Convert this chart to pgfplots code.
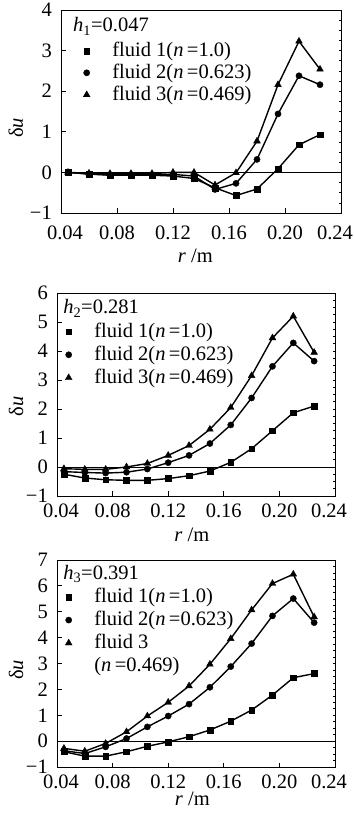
\documentclass[border=0pt]{standalone}
\usepackage{fontspec}
\setmainfont{Liberation Serif}
\usepackage{pgfplots}
\usepackage{pgfplotstable}
\pgfplotsset{compat=1.18}

\pgfplotstableread{
r f1 f2 f3
0.045 0.00 0.00 0.00
0.060 -0.04 -0.04 -0.02
0.075 -0.07 -0.06 -0.03
0.090 -0.07 -0.06 -0.03
0.105 -0.07 -0.06 -0.03
0.120 -0.09 -0.05 0.00
0.135 -0.15 -0.09 0.00
0.150 -0.38 -0.42 -0.31
0.165 -0.57 -0.27 -0.01
0.180 -0.41 0.32 0.77
0.195 0.09 1.44 2.16
0.210 0.68 2.38 3.23
0.225 0.93 2.16 2.54
}\tableA

\pgfplotstableread{
r f1 f2 f3
0.045 -0.25 -0.16 -0.06
0.060 -0.38 -0.19 -0.08
0.075 -0.44 -0.21 -0.08
0.090 -0.46 -0.18 0.00
0.105 -0.46 -0.07 0.12
0.120 -0.40 0.15 0.40
0.135 -0.30 0.40 0.74
0.150 -0.14 0.81 1.30
0.165 0.16 1.45 2.05
0.180 0.63 2.38 3.15
0.195 1.25 3.47 4.45
0.210 1.87 4.28 5.20
0.225 2.10 3.65 3.95
}\tableB

\pgfplotstableread{
r f1 f2 f3
0.045 -0.41 -0.37 -0.28
0.060 -0.58 -0.48 -0.39
0.075 -0.58 -0.22 -0.09
0.090 -0.41 0.10 0.36
0.105 -0.20 0.55 0.97
0.120 -0.03 0.97 1.50
0.135 0.17 1.43 2.13
0.150 0.43 2.08 2.97
0.165 0.77 2.88 3.96
0.180 1.20 3.77 5.07
0.195 1.78 4.84 6.09
0.210 2.45 5.51 6.45
0.225 2.61 4.58 4.80
}\tableC

\newcommand{\fs}{\fontsize{20.5}{24}\selectfont}

\pgfplotsset{
  base/.style={
    scale only axis,
    xmin=0.04, xmax=0.24,
    xtick={0.04,0.08,0.12,0.16,0.20,0.24},
    xticklabels={\hspace*{8pt}0.04,0.08,0.12,0.16,0.20,\hspace*{-12pt}0.24},
    tick align=inside, xtick pos=bottom, ytick pos=left,
    major tick length=4.5pt,
    axis line style={line width=0.9pt},
    every tick/.style={black, line width=0.9pt},
    tick label style={font=\fs, inner sep=0pt},
    yticklabel style={anchor=east, xshift=-9pt},
    label style={font=\fs},
    xlabel={\textit{r} /m},
    ylabel={δ\textit{u}},
    legend style={draw=none, fill=none, inner sep=0pt, outer sep=0pt, anchor=north west,
      nodes={font=\fs, inner sep=0pt, text depth=4pt, text height=15.5pt}},
    legend cell align=left,
    legend image code/.code={\draw[mark repeat=2,mark phase=2,##1,only marks] plot coordinates {(0pt,0pt)(6pt,0pt)(12pt,0pt)}; \path (0pt,0pt) (31pt,0pt);},
  },
  rt/.style={
    scale only axis, xmin=0.04, xmax=0.24,
    hide x axis, axis y line*=right,
    yticklabels={}, tick align=inside, major tick length=2.5pt,
    every tick/.style={black, line width=0.6pt},
    axis line style={line width=0.9pt},
  },
  s1/.style={black, line width=1.4pt, mark=square*, mark size=2.9pt, mark options={solid, line width=0.4pt}},
  s2/.style={black, line width=1.4pt, mark=*, mark size=3.1pt, mark options={solid, line width=0.4pt}},
  s3/.style={black, line width=1.4pt, mark=triangle*, mark size=3.9pt, mark options={solid, line width=0.4pt}},
}

\begin{document}
\begin{tikzpicture}
\useasboundingbox (0,0) rectangle (354pt,817pt);

% ---------- panel 1 ----------
\begin{axis}[base, at={(61pt,604pt)}, anchor=south west, width=280pt, height=203pt,
  ymin=-1, ymax=4, ytick={-1,0,1,2,3,4}, yticklabels={−1,0,1,2,3,4},
  xticklabel style={anchor=base, yshift=-27pt},
  xlabel style={at={(rel axis cs:0.48,0)}, anchor=base, yshift=-50pt},
  ylabel style={at={(rel axis cs:-0.161,0.42)}, anchor=center},
  legend style={at={(0,0.847)}, xshift=19pt, /tikz/row sep=2.5pt}]
\draw[line width=0.9pt] (axis cs:0.04,0) -- (axis cs:0.24,0);
\addplot[s1] table[x=r,y=f1] {\tableA};
\addlegendentry{fluid 1(\textit{n}\,=1.0)}
\addplot[s2] table[x=r,y=f2] {\tableA};
\addlegendentry{fluid 2(\textit{n}\,=0.623)}
\addplot[s3] table[x=r,y=f3] {\tableA};
\addlegendentry{fluid 3(\textit{n}\,=0.469)}
\node[anchor=base west, font=\fs, inner sep=0pt] at (rel axis cs:0.043,0.892) {\textit{h}\textsubscript{1}=0.047};
\end{axis}
\begin{axis}[rt, at={(61pt,604pt)}, anchor=south west, width=280pt, height=203pt,
  ymin=-1, ymax=4, ytick={-1,-0.75,...,4}]
\end{axis}

% ---------- panel 2 ----------
\begin{axis}[base, at={(57pt,321pt)}, anchor=south west, width=278pt, height=203pt,
  ymin=-1, ymax=6, ytick={-1,0,1,2,3,4,5,6}, yticklabels={−1,0,1,2,3,4,5,6},
  xticklabel style={anchor=base, yshift=-22pt},
  xlabel style={at={(rel axis cs:0.485,0)}, anchor=base, yshift=-46pt},
  ylabel style={at={(rel axis cs:-0.147,0.44)}, anchor=center},
  legend style={at={(0,0.857)}, xshift=5pt, /tikz/row sep=3.5pt}]
\draw[line width=0.9pt] (axis cs:0.04,0) -- (axis cs:0.24,0);
\addplot[s1] table[x=r,y=f1] {\tableB};
\addlegendentry{fluid 1(\textit{n}\,=1.0)}
\addplot[s2] table[x=r,y=f2] {\tableB};
\addlegendentry{fluid 2(\textit{n}\,=0.623)}
\addplot[s3] table[x=r,y=f3] {\tableB};
\addlegendentry{fluid 3(\textit{n}\,=0.469)}
\node[anchor=base west, font=\fs, inner sep=0pt] at (rel axis cs:0.022,0.897) {\textit{h}\textsubscript{2}=0.281};
\end{axis}
\begin{axis}[rt, at={(57pt,321pt)}, anchor=south west, width=278pt, height=203pt,
  ymin=-1, ymax=6, ytick={-1,-0.75,...,6}]
\end{axis}

% ---------- panel 3 ----------
\begin{axis}[base, at={(57pt,50pt)}, anchor=south west, width=278pt, height=207pt,
  ymin=-1, ymax=7, ytick={-1,0,1,2,3,4,5,6,7}, yticklabels={−1,0,1,2,3,4,5,6,7},
  xticklabel style={anchor=base, yshift=-21pt},
  xlabel style={at={(rel axis cs:0.487,0)}, anchor=base, yshift=-38pt},
  ylabel style={at={(rel axis cs:-0.147,0.47)}, anchor=center},
  legend style={at={(0,0.868)}, xshift=5pt, /tikz/row sep=3.5pt}]
\draw[line width=0.9pt] (axis cs:0.04,0) -- (axis cs:0.24,0);
\addplot[s1] table[x=r,y=f1] {\tableC};
\addlegendentry{fluid 1(\textit{n}\,=1.0)}
\addplot[s2] table[x=r,y=f2] {\tableC};
\addlegendentry{fluid 2(\textit{n}\,=0.623)}
\addplot[s3] table[x=r,y=f3] {\tableC};
\addlegendentry{fluid 3}
\addlegendimage{empty legend}
\addlegendentry{(\textit{n}\,=0.469)}
\node[anchor=base west, font=\fs, inner sep=0pt] at (rel axis cs:0.022,0.908) {\textit{h}\textsubscript{3}=0.391};
\end{axis}
\begin{axis}[rt, at={(57pt,50pt)}, anchor=south west, width=278pt, height=207pt,
  ymin=-1, ymax=7, ytick={-1,-0.75,...,7}]
\end{axis}
\end{tikzpicture}
\end{document}
